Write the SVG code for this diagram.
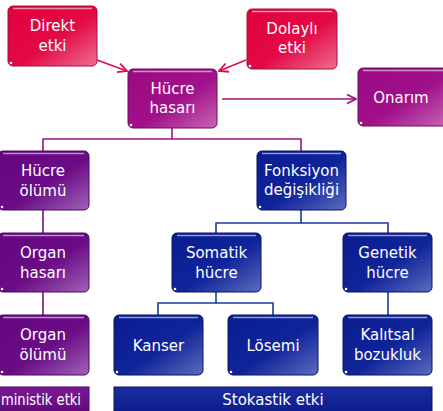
<svg xmlns="http://www.w3.org/2000/svg" width="443" height="411" viewBox="0 0 443 411">
<defs>
<linearGradient id="gRed" x1="0" y1="0" x2="1" y2="1"><stop offset="0" stop-color="#e2003e"/><stop offset="0.55" stop-color="#e20a45"/><stop offset="1" stop-color="#ef6d92"/></linearGradient>
<linearGradient id="gMag" x1="0" y1="0" x2="1" y2="1"><stop offset="0" stop-color="#9c0a82"/><stop offset="0.55" stop-color="#a0108a"/><stop offset="1" stop-color="#c866b2"/></linearGradient>
<linearGradient id="gPur" x1="0" y1="0" x2="1" y2="1"><stop offset="0" stop-color="#640680"/><stop offset="0.55" stop-color="#6a0c86"/><stop offset="1" stop-color="#a064b6"/></linearGradient>
<linearGradient id="gBlu" x1="0" y1="0" x2="1" y2="1"><stop offset="0" stop-color="#0a1c92"/><stop offset="0.55" stop-color="#10249a"/><stop offset="1" stop-color="#5c6cbc"/></linearGradient>
<linearGradient id="gBarP" x1="0" y1="0" x2="0" y2="1"><stop offset="0" stop-color="#7a1a94"/><stop offset="1" stop-color="#5e0679"/></linearGradient>
<linearGradient id="gBarB" x1="0" y1="0" x2="0" y2="1"><stop offset="0" stop-color="#1a2ca0"/><stop offset="1" stop-color="#0a1a8a"/></linearGradient>
<marker id="arR" viewBox="0 0 10 10" refX="9" refY="5" markerWidth="7" markerHeight="7" orient="auto"><path d="M1,1 L9,5 L1,9" fill="none" stroke="#d8104a" stroke-width="1.6"/></marker>
<marker id="arM" viewBox="0 0 10 10" refX="9" refY="5" markerWidth="7" markerHeight="7" orient="auto"><path d="M1,1 L9,5 L1,9" fill="none" stroke="#a0107f" stroke-width="1.6"/></marker>
</defs>
<style>
.box{stroke-width:1}
.red{fill:url(#gRed);stroke:#a01238}
.mag{fill:url(#gMag);stroke:#6e0a5e}
.pur{fill:url(#gPur);stroke:#480860}
.blu{fill:url(#gBlu);stroke:#0a1262}
.hl{fill:none;stroke:#ffffff;stroke-opacity:0.55;stroke-width:1.5}
.dot{fill:#ffffff}
text{font-family:"DejaVu Sans","Liberation Sans",sans-serif;font-size:15px;fill:#ffffff;text-anchor:middle}
.c{fill:none;stroke-width:1.6}
</style>
<g id="connectors">
<line class="c" x1="97" y1="60" x2="127" y2="71" stroke="#d8104a" marker-end="url(#arR)"/>
<line class="c" x1="246" y1="60" x2="219" y2="71" stroke="#d8104a" marker-end="url(#arR)"/>
<line class="c" x1="222" y1="99" x2="356" y2="99" stroke="#a0107f" marker-end="url(#arM)"/>
<path class="c" d="M172,128 V139 M43,151 V139 H301 V151" stroke="#a0107f"/>
<path class="c" d="M43,210 V233 M43,292 V315" stroke="#6a1a7a"/>
<path class="c" d="M301,210 V223 M216,233 V223 H388 V233" stroke="#1a3aa0"/>
<path class="c" d="M216,292 V303 M158,315 V303 H273 V315 M388,292 V315" stroke="#1a3aa0"/>
</g>
<g id="direkt"><rect class="box red" x="8" y="6" width="89" height="60" rx="5"/><path class="hl" d="M13,8.5 H92"/><circle class="dot" cx="11" cy="63" r="1.3"/><text x="52.5" y="31">Direkt</text><text x="52.5" y="51">etki</text></g>
<g id="dolayli"><rect class="box red" x="247" y="9" width="90" height="60" rx="5"/><path class="hl" d="M252,11.5 H332"/><circle class="dot" cx="250" cy="66" r="1.3"/><text x="292" y="34">Dolaylı</text><text x="292" y="53">etki</text></g>
<g id="hucre-hasari"><rect class="box mag" x="128" y="69" width="89" height="59" rx="5"/><path class="hl" d="M133,71.5 H212"/><circle class="dot" cx="131" cy="125" r="1.3"/><text x="172.5" y="94">Hücre</text><text x="172.5" y="113">hasarı</text></g>
<g id="onarim"><rect class="box mag" x="358" y="68" width="90" height="58" rx="5"/><path class="hl" d="M363,70.5 H445"/><circle class="dot" cx="361" cy="123" r="1.3"/><text x="401" y="103">Onarım</text></g>
<g id="hucre-olumu"><rect class="box pur" x="-2" y="151" width="91" height="59" rx="5"/><path class="hl" d="M3,153.5 H84"/><circle class="dot" cx="2" cy="207" r="1.3"/><text x="43" y="176">Hücre</text><text x="43" y="196">ölümü</text></g>
<g id="organ-hasari"><rect class="box pur" x="-2" y="233" width="91" height="59" rx="5"/><path class="hl" d="M3,235.5 H84"/><circle class="dot" cx="2" cy="289" r="1.3"/><text x="43" y="258">Organ</text><text x="43" y="278">hasarı</text></g>
<g id="organ-olumu"><rect class="box pur" x="-2" y="315" width="91" height="60" rx="5"/><path class="hl" d="M3,317.5 H84"/><circle class="dot" cx="2" cy="372" r="1.3"/><text x="43" y="340">Organ</text><text x="43" y="360">ölümü</text></g>
<g id="fonksiyon"><rect class="box blu" x="257" y="151" width="89" height="59" rx="5"/><path class="hl" d="M262,153.5 H341"/><circle class="dot" cx="260" cy="207" r="1.3"/><text x="301.5" y="176">Fonksiyon</text><text x="301.5" y="195">değişikliği</text></g>
<g id="somatik"><rect class="box blu" x="172" y="233" width="89" height="59" rx="5"/><path class="hl" d="M177,235.5 H256"/><circle class="dot" cx="175" cy="289" r="1.3"/><text x="216.5" y="258">Somatik</text><text x="216.5" y="278">hücre</text></g>
<g id="genetik"><rect class="box blu" x="343" y="233" width="89" height="59" rx="5"/><path class="hl" d="M348,235.5 H427"/><circle class="dot" cx="346" cy="289" r="1.3"/><text x="387.5" y="258">Genetik</text><text x="387.5" y="278">hücre</text></g>
<g id="kanser"><rect class="box blu" x="114" y="315" width="89" height="60" rx="5"/><path class="hl" d="M119,317.5 H198"/><circle class="dot" cx="117" cy="372" r="1.3"/><text x="158.5" y="351">Kanser</text></g>
<g id="losemi"><rect class="box blu" x="228" y="315" width="90" height="60" rx="5"/><path class="hl" d="M233,317.5 H313"/><circle class="dot" cx="231" cy="372" r="1.3"/><text x="273" y="351">Lösemi</text></g>
<g id="kalitsal"><rect class="box blu" x="343" y="315" width="89" height="60" rx="5"/><path class="hl" d="M348,317.5 H427"/><circle class="dot" cx="346" cy="372" r="1.3"/><text x="387.5" y="340">Kalıtsal</text><text x="387.5" y="360">bozukluk</text></g>
<g id="deterministik"><rect x="-5" y="387" width="94" height="30" fill="url(#gBarP)" stroke="#480860"/><text x="1" y="405" style="text-anchor:start" textLength="80" lengthAdjust="spacingAndGlyphs">ministik etki</text></g>
<g id="stokastik"><rect x="114" y="387" width="318" height="30" fill="url(#gBarB)" stroke="#0a1262"/><text x="273" y="405">Stokastik etki</text></g>
</svg>
